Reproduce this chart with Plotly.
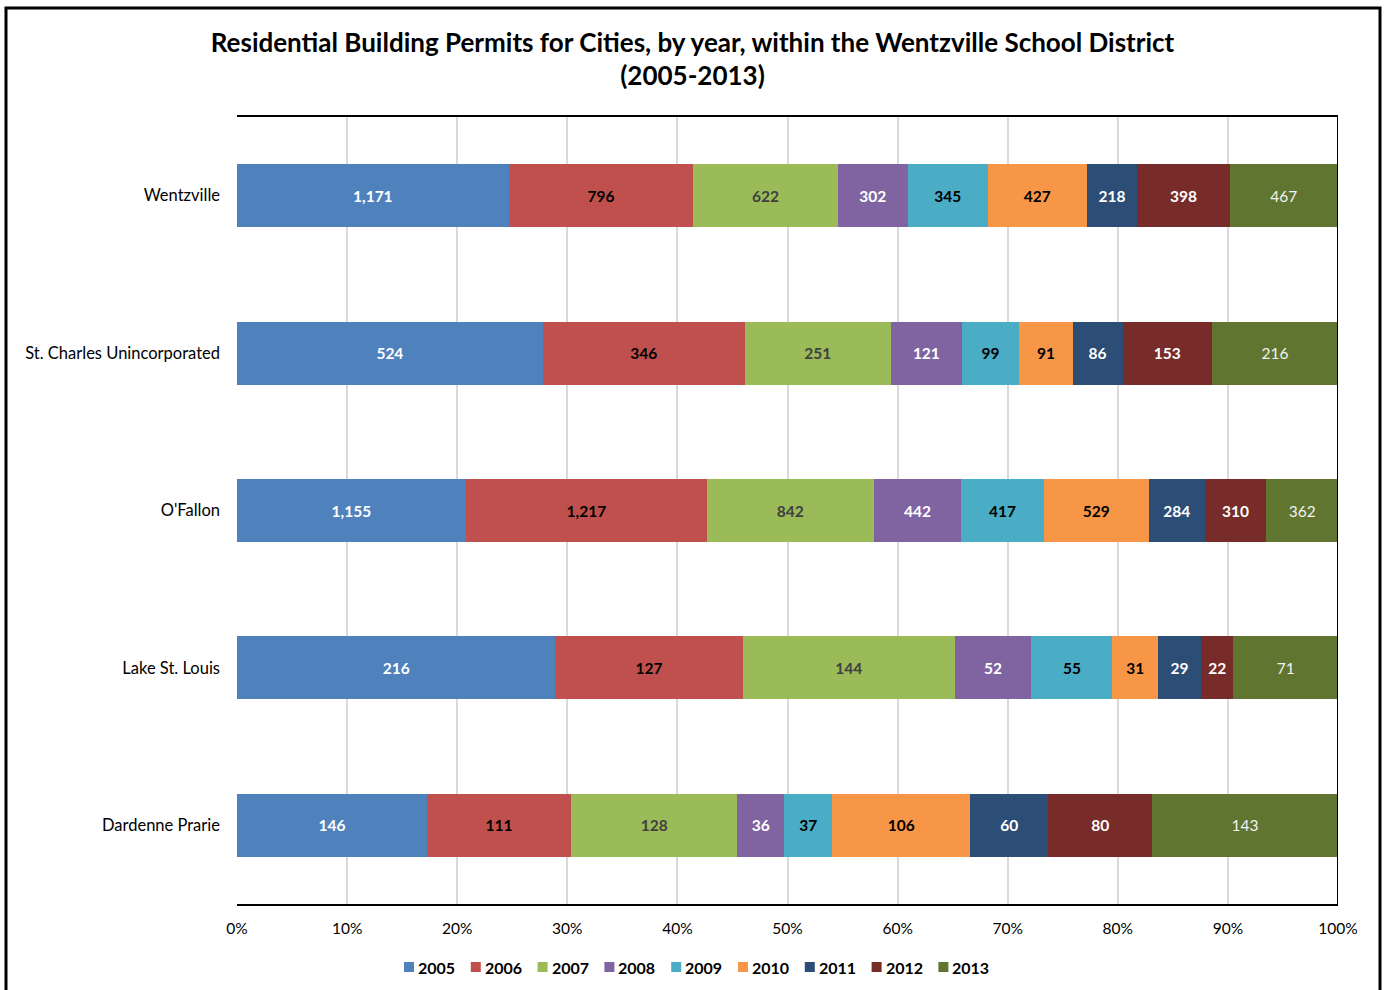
import plotly.graph_objects as go

cities = ["Wentzville", "St. Charles Unincorporated", "O'Fallon", "Lake St. Louis", "Dardenne Prarie"]
years = ["2005", "2006", "2007", "2008", "2009", "2010", "2011", "2012", "2013"]
values = {
    "2005": [1171, 524, 1155, 216, 146],
    "2006": [796, 346, 1217, 127, 111],
    "2007": [622, 251, 842, 144, 128],
    "2008": [302, 121, 442, 52, 36],
    "2009": [345, 99, 417, 55, 37],
    "2010": [427, 91, 529, 31, 106],
    "2011": [218, 86, 284, 29, 60],
    "2012": [398, 153, 310, 22, 80],
    "2013": [467, 216, 362, 71, 143],
}
colors = ["#4F81BD", "#C0504D", "#9BBB59", "#8064A2", "#4BACC6", "#F79646", "#2C4D75", "#772C2A", "#5F7530"]
text_colors = ["white", "black", "#404040", "white", "black", "black", "white", "white", "#F2F2F2"]
text_bold = [True, True, True, True, True, True, True, True, False]

FONT = "Lato, 'Open Sans', sans-serif"

fig = go.Figure()
for i, y in enumerate(years):
    txt = [f"{v:,}" for v in values[y]]
    if text_bold[i]:
        txt = [f"<b>{t}</b>" for t in txt]
    fig.add_trace(go.Bar(
        name=y, y=cities, x=values[y], orientation="h",
        marker=dict(color=colors[i], line=dict(width=0)),
        text=txt, textposition="inside", insidetextanchor="middle",
        textangle=0, constraintext="none",
        textfont=dict(color=text_colors[i], size=15.5, family=FONT),
        hoverinfo="x+y+name", showlegend=False,
    ))

L, R, T, B = 237, 47, 117, 86
W, H = 1385, 990
pw = W - L - R
ph = H - T - B

def px_x(p):
    return (p - L) / pw

def px_y(p):
    return (H - B - p) / ph

shapes = [
    dict(type="line", xref="x", yref="paper", x0=100, x1=100, y0=0, y1=1,
         line=dict(color="black", width=2), layer="above"),
    dict(type="rect", xref="paper", yref="paper",
         x0=px_x(6), x1=px_x(1380), y0=px_y(8), y1=px_y(1000),
         line=dict(color="black", width=3), fillcolor="rgba(0,0,0,0)", layer="above"),
]
annotations = []
# legend (custom, compact like the original)
leg_start, leg_step, leg_y = 404, 66.8, 967
for i, y in enumerate(years):
    x0 = leg_start + i * leg_step
    shapes.append(dict(type="rect", xref="paper", yref="paper",
                       x0=px_x(x0), x1=px_x(x0 + 10), y0=px_y(leg_y - 5), y1=px_y(leg_y + 5),
                       line=dict(width=0), fillcolor=colors[i], layer="above"))
    annotations.append(dict(xref="paper", yref="paper", x=px_x(x0 + 12), y=px_y(leg_y),
                            xanchor="left", yanchor="middle", showarrow=False,
                            text=f"<b>{y}</b>", font=dict(size=16, family=FONT, color="black")))

fig.update_layout(
    barmode="stack", barnorm="percent", bargap=0.6,
    width=W, height=H,
    margin=dict(l=L, r=R, t=T, b=B),
    paper_bgcolor="white", plot_bgcolor="white",
    font=dict(family=FONT, color="black"),
    showlegend=False,
    title=dict(
        text="<b>Residential Building Permits for Cities, by year, within the Wentzville School District<br>(2005-2013)</b>",
        x=0.5, xanchor="center", xref="container", y=1 - 51.5 / H, yanchor="middle",
        font=dict(size=26, family=FONT, color="black"),
    ),
    xaxis=dict(
        range=[0, 100], tickvals=list(range(0, 101, 10)),
        ticktext=[f"{v}%" for v in range(0, 101, 10)],
        showgrid=True, gridcolor="#D9D9D9", gridwidth=1.5,
        showline=True, linecolor="black", linewidth=2, mirror=True,
        ticks="", tickfont=dict(size=15.5, family=FONT, color="black"),
        ticklabelstandoff=9,
        zeroline=False, fixedrange=True,
    ),
    yaxis=dict(
        categoryorder="array", categoryarray=cities[::-1],
        showline=False, ticks="", ticklen=0,
        tickfont=dict(size=16.5, family=FONT, color="black"),
        ticklabelstandoff=16,
        showgrid=False, zeroline=False, automargin=False,
    ),
    shapes=shapes,
    annotations=annotations,
)

fig.write_html("out.html", config={"displayModeBar": False},
               post_script="document.body.style.margin='0px';document.body.style.overflow='hidden';")
